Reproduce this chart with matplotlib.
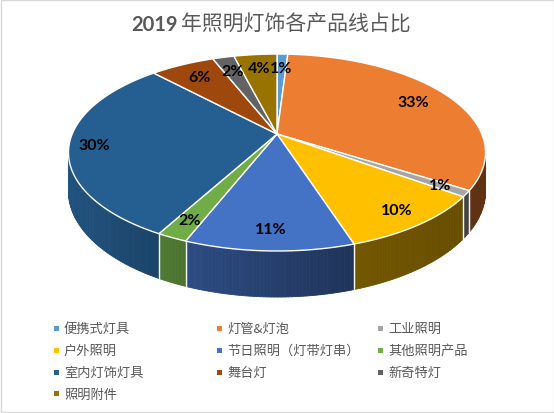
import numpy as np
import matplotlib.pyplot as plt
from matplotlib.patches import Polygon, Rectangle
from matplotlib.colors import to_rgb

plt.rcParams['font.family'] = ['Noto Sans CJK SC', 'DejaVu Sans']

title_year = '2019'
title_rest = '年照明灯饰各产品线占比'
categories = ['便携式灯具', '灯管&灯泡', '工业照明', '户外照明', '节日照明（灯带灯串）',
              '其他照明产品', '室内灯饰灯具', '舞台灯', '新奇特灯', '照明附件']
shares = [1, 33, 1, 10, 11, 2, 30, 6, 2, 4]
colors = ['#5B9BD5', '#ED7D31', '#A5A5A5', '#FFC000', '#4472C4',
          '#70AD47', '#255E91', '#9E480E', '#636363', '#997300']

# projection of the tilted disc (pixel coords, y down)
CX, CY = 277, 135
A, B, K, D = 204.8, 95.0, 0.188, 37.4


def rim(theta, r=1.0, z=0.0):
    t = np.radians(theta)
    u, v = r * np.sin(t), r * np.cos(t)
    w = 1 + K * v
    return CX + A * u / w, CY - B * v / w + z * D / w


fig = plt.figure(figsize=(5.54, 4.14), dpi=100)
ax = fig.add_axes([0, 0, 1, 1])
ax.set_xlim(0, 554)
ax.set_ylim(414, 0)
ax.axis('off')

vals = np.array(shares, dtype=float)
edges = np.concatenate([[0], np.cumsum(vals)]) / vals.sum() * 360
front0 = np.degrees(np.arccos(-K))
front1 = 360 - front0

# side walls, shaded by horizontal position
for i, c in enumerate(colors):
    a0, a1 = max(edges[i], front0), min(edges[i + 1], front1)
    if a1 <= a0:
        continue
    base = np.array(to_rgb(c))
    n = max(2, int((a1 - a0) / 0.8))
    ts = np.linspace(a0, a1, n + 1)
    for t0, t1 in zip(ts[:-1], ts[1:]):
        p = [rim(t0), rim(t1), rim(t1, z=1), rim(t0, z=1)]
        xm = rim((t0 + t1) / 2)[0]
        f = np.interp(xm, [68, 175, 355, 470], [0.88, 0.68, 0.45, 0.40])
        col = np.clip(base * f, 0, 1)
        ax.add_patch(Polygon(p, closed=True, fc=col, ec=col, lw=0.6))
for e in edges:
    if front0 < e < front1:
        x0, y0 = rim(e)
        x1, y1 = rim(e, z=1)
        ax.plot([x0, x1], [y0, y1], color='white', lw=1)

# top faces
for i, c in enumerate(colors):
    ts = np.linspace(edges[i], edges[i + 1], max(3, int(edges[i + 1] - edges[i]) + 2))
    pts = [(CX, CY)] + [rim(t) for t in ts]
    ax.add_patch(Polygon(pts, closed=True, fc=c, ec='white', lw=1))

# data labels
for i, s in enumerate(shares):
    mid = (edges[i] + edges[i + 1]) / 2
    if np.cos(np.radians(mid)) > 0:
        r = 0.8
    else:
        r = 0.84 + 0.04 * abs(np.sin(np.radians(mid)))
    x, y = rim(mid, r)
    ax.text(x, y, f'{s}%', ha='center', va='center', fontsize=11.5,
            fontweight='bold', family=['Lato', 'DejaVu Sans'], color='#000000')

# title
ax.text(178, 25, title_year, ha='right', va='center', fontsize=14.5,
        fontweight='bold', color='#595959', family=['Lato', 'DejaVu Sans'])
ax.text(181, 25, title_rest, ha='left', va='center', fontsize=15, color='#595959')

# legend
col_x = [56, 219, 380]
row_y = [329, 351, 373, 395]
for i, (lab, c) in enumerate(zip(categories, colors)):
    x, y = col_x[i % 3], row_y[i // 3]
    ax.add_patch(Rectangle((x - 2.5, y - 2.5), 5, 5, fc=c, ec='none'))
    ax.text(x + 8, y, lab, ha='left', va='center', fontsize=9.5, color='#595959')

ax.add_patch(Rectangle((0.5, 0.5), 553, 413, fill=False, ec='#D9D9D9', lw=1))

fig.savefig('out.png', dpi=100)
